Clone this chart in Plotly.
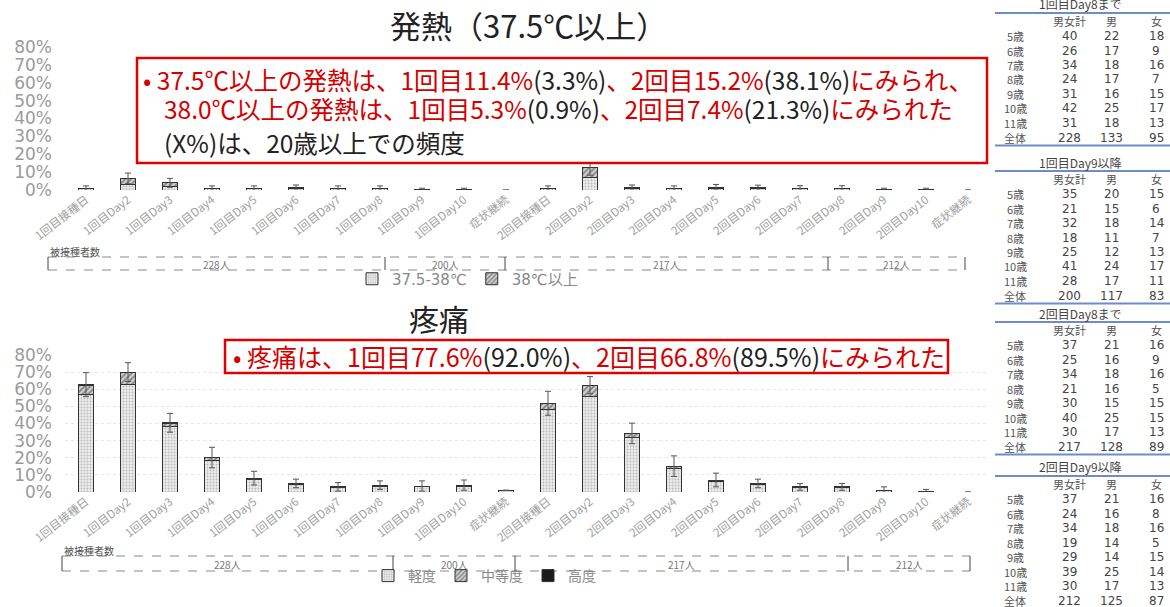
import plotly.graph_objects as go

W, H = 1170, 607
def px(x): return x / W
def py(y): return 1 - y / H

# ---------------- data ----------------
cats = ["1回目接種日", "1回目Day2", "1回目Day3", "1回目Day4", "1回目Day5", "1回目Day6",
        "1回目Day7", "1回目Day8", "1回目Day9", "1回目Day10", "症状継続",
        "2回目接種日", "2回目Day2", "2回目Day3", "2回目Day4", "2回目Day5", "2回目Day6",
        "2回目Day7", "2回目Day8", "2回目Day9", "2回目Day10", "症状継続"]
idx = list(range(len(cats)))

fever_low  = [0.6, 3.0, 2.2, 0.6, 0.6, 0.9, 0.6, 0.6, 0.1, 0.1, 0.0,
              0.6, 7.0, 0.9, 0.6, 1.0, 0.8, 0.7, 0.7, 0.1, 0.1, 0.0]
fever_high = [0.3, 3.5, 1.8, 0.3, 0.3, 0.4, 0.3, 0.3, 0.1, 0.1, 0.0,
              0.3, 5.8, 0.4, 0.3, 0.5, 0.4, 0.3, 0.3, 0.1, 0.1, 0.0]
fever_err  = [1.4, 3.0, 2.5, 1.4, 1.4, 1.5, 1.4, 1.4, 0.8, 0.8, 0.0,
              1.4, 4.5, 1.5, 1.4, 1.6, 1.5, 1.4, 1.4, 0.8, 0.8, 0.0]

pain_mild = [57.0, 63.0, 38.0, 18.5, 7.2, 4.5, 2.7, 3.5, 3.2, 3.5, 0.9,
             48.0, 56.0, 32.0, 14.0, 6.3, 4.5, 2.6, 2.6, 0.9, 0.4, 0.0]
pain_mod  = [5.3, 6.6, 2.2, 1.5, 0.8, 0.5, 0.3, 0.5, 0.3, 0.5, 0.1,
             3.5, 6.0, 2.0, 1.0, 0.7, 0.5, 0.4, 0.4, 0.1, 0.1, 0.0]
pain_sev  = [0.4, 0.4, 0.2, 0.1, 0.1, 0.0, 0.0, 0.0, 0.0, 0.0, 0.0,
             0.3, 0.4, 0.2, 0.1, 0.0, 0.0, 0.0, 0.0, 0.0, 0.0, 0.0]
pain_err  = [7.0, 5.5, 5.5, 6.0, 4.0, 2.5, 2.5, 2.5, 3.0, 3.0, 0.0,
             7.0, 5.0, 6.0, 6.0, 4.0, 2.5, 2.0, 2.0, 2.0, 1.0, 0.0]

counts = ["228人", "200人", "217人", "212人"]

ages = ["5歳", "6歳", "7歳", "8歳", "9歳", "10歳", "11歳", "全体"]
table_titles = ["1回目Day8まで", "1回目Day9以降", "2回目Day8まで", "2回目Day9以降"]
tab_total = [[40, 26, 34, 24, 31, 42, 31, 228],
             [35, 21, 32, 18, 25, 41, 28, 200],
             [37, 25, 34, 21, 30, 40, 30, 217],
             [37, 24, 34, 19, 29, 39, 30, 212]]
tab_male = [[22, 17, 18, 17, 16, 25, 18, 133],
            [20, 15, 18, 11, 12, 24, 17, 117],
            [21, 16, 18, 16, 15, 25, 17, 128],
            [21, 16, 18, 14, 14, 25, 17, 125]]
tab_female = [[18, 9, 16, 7, 15, 17, 13, 95],
              [15, 6, 14, 7, 13, 17, 11, 83],
              [16, 9, 16, 5, 15, 15, 13, 89],
              [16, 8, 16, 5, 15, 14, 13, 87]]

# ---------------- styles ----------------
JP = "Noto Sans CJK JP"
LINE = dict(color="#333", width=1)
light = dict(color="#e6e6e6", line=LINE,
             pattern=dict(shape=".", fgcolor="#8a8a8a", bgcolor="#ececec", size=3, solidity=0.35))
hatch = dict(color="#bbb", line=LINE,
             pattern=dict(shape="/", fgcolor="#333", bgcolor="#d0d0d0", size=4, solidity=0.45))
dark = dict(color="#1a1a1a", line=LINE)
ERR = dict(type="data", symmetric=True, color="#555", thickness=1, width=3)

fig = go.Figure()
fig.add_bar(x=idx, y=fever_low, name="37.5-38℃", marker=light, width=0.34,
            xaxis="x", yaxis="y", legend="legend")
fig.add_bar(x=idx, y=fever_high, name="38℃以上", marker=hatch, width=0.34,
            xaxis="x", yaxis="y", legend="legend")
fig.add_scatter(x=idx, y=[a + b for a, b in zip(fever_low, fever_high)], mode="markers",
                marker=dict(size=1, color="rgba(0,0,0,0)"),
                error_y=dict(array=fever_err, **ERR), showlegend=False,
                hoverinfo="skip", xaxis="x", yaxis="y")
fig.add_bar(x=idx, y=pain_mild, name="軽度", marker=light, width=0.34,
            xaxis="x2", yaxis="y2", legend="legend2")
fig.add_bar(x=idx, y=pain_mod, name="中等度", marker=hatch, width=0.34,
            xaxis="x2", yaxis="y2", legend="legend2")
fig.add_bar(x=idx, y=pain_sev, name="高度", marker=dark, width=0.34,
            xaxis="x2", yaxis="y2", legend="legend2")
fig.add_scatter(x=idx, y=[a + b + c for a, b, c in zip(pain_mild, pain_mod, pain_sev)],
                mode="markers", marker=dict(size=1, color="rgba(0,0,0,0)"),
                error_y=dict(array=pain_err, **ERR), showlegend=False,
                hoverinfo="skip", xaxis="x2", yaxis="y2")

xcommon = dict(domain=[px(65), px(989)], range=[-0.5, len(cats) - 0.5], tickmode="array",
               tickvals=idx, ticktext=cats, tickangle=-38, showgrid=False, zeroline=False,
               showline=False, ticks="", automargin=False,
               tickfont=dict(family=JP, size=11.5, color="#a0a0a0"))
ycommon = dict(range=[0, 80], dtick=10, ticksuffix="%", zeroline=False,
               showline=False, ticks="", ticklabelstandoff=12, automargin=False,
               tickfont=dict(family="DejaVu Sans", size=17, color="#9a9a9a"))

ann = []
shapes = []

def text(t, x, y, size, color="#444", family=JP, xanchor="center"):
    ann.append(dict(text=t, x=px(x), y=py(y), xref="paper", yref="paper", xanchor=xanchor,
                    yanchor="middle", showarrow=False,
                    font=dict(family=family, size=size, color=color)))

text("発熱（37.5℃以上）", 528, 25, 31, "#222")
text("疼痛", 439, 318, 30, "#222")

RED = "#d40000"
BLK = "#222"
def r(t): return f'<span style="color:{RED}">{t}</span>'
def b(t): return f'<span style="color:{BLK}">{t}</span>'

shapes.append(dict(type="rect", xref="paper", yref="paper", x0=px(137), x1=px(987),
                   y0=py(163), y1=py(58), line=dict(color="#e00000", width=2.5),
                   fillcolor="white", layer="above"))
line1 = r("• 37.5℃以上の発熱は、1回目11.4%") + b("(3.3%)") + r("、2回目15.2%") + b("(38.1%)") + r("にみられ、")
line2 = r("38.0℃以上の発熱は、1回目5.3%") + b("(0.9%)") + r("、2回目7.4%") + b("(21.3%)") + r("にみられた")
line3 = b("(X%)は、20歳以上での頻度")
text(line1, 141, 80, 24.5, RED, xanchor="left")
text(line2, 162, 108, 24.5, RED, xanchor="left")
text(line3, 162, 143, 24.5, BLK, xanchor="left")

shapes.append(dict(type="rect", xref="paper", yref="paper", x0=px(225), x1=px(948),
                   y0=py(373), y1=py(340), line=dict(color="#e00000", width=2.5),
                   fillcolor="white", layer="above"))
line4 = r("• 疼痛は、1回目77.6%") + b("(92.0%)") + r("、2回目66.8%") + b("(89.5%)") + r("にみられた")
text(line4, 231, 356, 25, RED, xanchor="left")

def count_row(edges, ytop, ybot, ylabel):
    text("被接種者数", edges[0], ylabel, 10, "#555", xanchor="left")
    for yy in (ytop, ybot):
        shapes.append(dict(type="line", xref="paper", yref="paper", x0=px(edges[0]), x1=px(edges[-1]),
                           y0=py(yy), y1=py(yy), line=dict(color="#888", width=1, dash="dash")))
    for e in edges:
        shapes.append(dict(type="line", xref="paper", yref="paper", x0=px(e), x1=px(e),
                           y0=py(ytop), y1=py(ybot), line=dict(color="#444", width=1)))
    for i, c in enumerate(counts):
        text(c, (edges[i] + edges[i + 1]) / 2, (ytop + ybot) / 2 + 1, 10, "#777")

count_row([48, 385, 505, 828, 965], 257, 270, 251)
count_row([62, 393, 515, 848, 970], 556, 571, 550)

title_y = [4, 162, 313, 467]
col_x = [1015, 1069, 1111, 1156]
BLUE = "#6f8cc9"
for k in range(4):
    ty = title_y[k]
    text(table_titles[k], 1080, ty, 12, "#444")
    shapes.append(dict(type="line", xref="paper", yref="paper", x0=px(995), x1=px(1170),
                       y0=py(ty + 9), y1=py(ty + 9), line=dict(color=BLUE, width=2)))
    for j, hname in enumerate(["男女計", "男", "女"]):
        text(hname, col_x[j + 1], ty + 17, 11, "#555")
    for i, a in enumerate(ages):
        yy = ty + 32 + i * 14.5
        text(a, col_x[0], yy, 11, "#555")
        for j, v in enumerate([tab_total[k][i], tab_male[k][i], tab_female[k][i]]):
            text(str(v), col_x[j + 1], yy, 12, "#444", family="DejaVu Sans")
    yb = ty + 32 + 7 * 14.5 + 8
    shapes.append(dict(type="line", xref="paper", yref="paper", x0=px(995), x1=px(1170),
                       y0=py(yb), y1=py(yb), line=dict(color=BLUE, width=2)))

fig.update_layout(
    width=W, height=H, autosize=False,
    margin=dict(l=0, r=0, t=0, b=0, autoexpand=False),
    paper_bgcolor="white", plot_bgcolor="white", barmode="stack",
    xaxis=dict(anchor="y", **xcommon),
    yaxis=dict(anchor="x", domain=[py(190), py(47)], showgrid=False, **ycommon),
    xaxis2=dict(anchor="y2", **xcommon),
    yaxis2=dict(anchor="x2", domain=[py(492), py(355)], showgrid=True, gridcolor="#e6e6e6",
                griddash="dot", gridwidth=1, **ycommon),
    legend=dict(orientation="h", x=px(352), y=py(279), xanchor="left", yanchor="middle",
                traceorder="normal",
                font=dict(family="DejaVu Sans, " + JP, size=15, color="#888"),
                bgcolor="rgba(0,0,0,0)", itemwidth=30),
    legend2=dict(orientation="h", x=px(368), y=py(576), xanchor="left", yanchor="middle",
                 traceorder="normal",
                 font=dict(family=JP, size=14, color="#888"),
                 bgcolor="rgba(0,0,0,0)", itemwidth=30),
    annotations=ann, shapes=shapes, showlegend=True,
)

fig.write_html("out.html", config={"displayModeBar": False},
               post_script="document.body.style.margin='0';document.body.style.overflow='hidden';")
